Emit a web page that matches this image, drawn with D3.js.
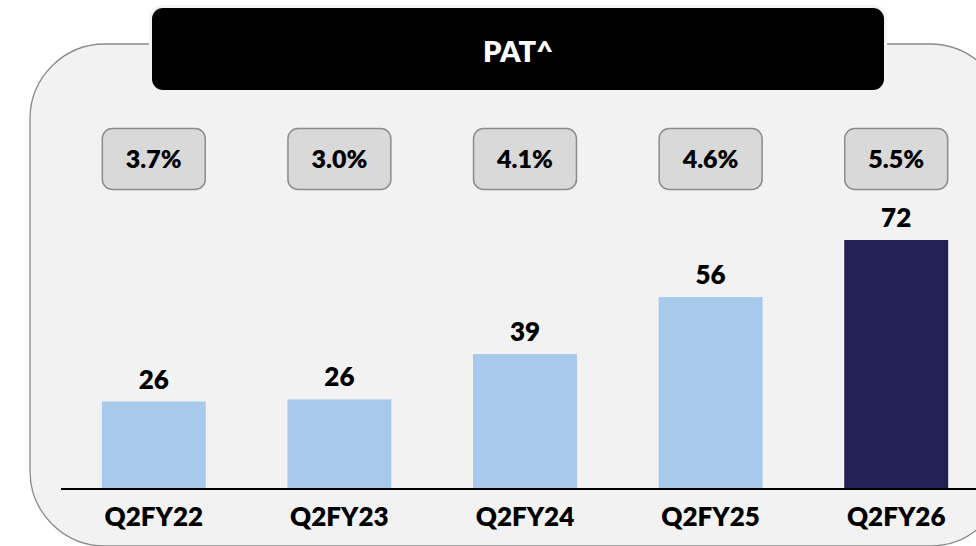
<!DOCTYPE html>
<html>
<head>
<meta charset="utf-8">
<script src="https://cdn.jsdelivr.net/npm/d3@7"></script>
<style>
  html, body { margin: 0; padding: 0; background: #ffffff; }
  svg { display: block; font-family: Lato, "Open Sans", sans-serif; }
</style>
</head>
<body>
<svg id="chart" width="976" height="546"></svg>
<script>
// ---- data ----
const title = "PAT^";
const categories = ["Q2FY22", "Q2FY23", "Q2FY24", "Q2FY25", "Q2FY26"];
const patValues = [25.3, 25.9, 39.0, 55.5, 72.0];
const valueLabels = ["26", "26", "39", "56", "72"];
const marginLabels = ["3.7%", "3.0%", "4.1%", "4.6%", "5.5%"];
const highlightIndex = 4;

// ---- layout ----
const W = 976, H = 546;
const svg = d3.select("#chart");
const FW = 800;

// background panel
svg.append("rect")
  .attr("x", 30).attr("y", 44)
  .attr("width", 975).attr("height", 502)
  .attr("rx", 75).attr("ry", 75)
  .attr("fill", "#f2f2f2")
  .attr("stroke", "#8a8a8a").attr("stroke-width", 1.3);

// header
svg.append("rect")
  .attr("x", 152).attr("y", 8)
  .attr("width", 732).attr("height", 82)
  .attr("rx", 11).attr("ry", 11)
  .attr("fill", "#000000")
  .attr("stroke", "#f3f3f3").attr("stroke-width", 6)
  .attr("paint-order", "stroke");
svg.append("text")
  .attr("x", 518).attr("y", 62)
  .attr("text-anchor", "middle")
  .attr("fill", "#ffffff")
  .attr("font-weight", FW)
  .attr("font-size", 29)
  .text(title);

// scales
const x = d3.scaleBand()
  .domain(categories)
  .range([61, 989])
  .paddingInner(0.44)
  .paddingOuter(0.22);
const y = d3.scaleLinear()
  .domain([0, 72])
  .range([489, 240]);

// bars
svg.append("g").selectAll("rect")
  .data(categories)
  .join("rect")
  .attr("x", d => x(d))
  .attr("y", (d, i) => y(patValues[i]))
  .attr("width", x.bandwidth())
  .attr("height", (d, i) => y(0) - y(patValues[i]))
  .attr("fill", (d, i) => i === highlightIndex ? "#232055" : "#a7c9eb");

// value labels
svg.append("g").selectAll("text")
  .data(categories)
  .join("text")
  .attr("x", d => x(d) + x.bandwidth() / 2)
  .attr("y", (d, i) => y(patValues[i]) - 13)
  .attr("text-anchor", "middle")
  .attr("font-weight", FW)
  .attr("font-size", 26)
  .attr("fill", "#000")
  .text((d, i) => valueLabels[i]);

// margin boxes
const boxes = svg.append("g").selectAll("g")
  .data(categories)
  .join("g")
  .attr("transform", d => `translate(${x(d)},128)`);
boxes.append("rect")
  .attr("x", 0.5).attr("y", 0.5)
  .attr("width", x.bandwidth() - 1).attr("height", 61)
  .attr("rx", 10).attr("ry", 10)
  .attr("fill", "#d9d9d9")
  .attr("stroke", "#8c8c8c").attr("stroke-width", 1.5);
boxes.append("text")
  .attr("x", x.bandwidth() / 2)
  .attr("y", 40)
  .attr("text-anchor", "middle")
  .attr("font-weight", FW)
  .attr("font-size", 25)
  .attr("fill", "#000")
  .text((d, i) => marginLabels[i]);

// x axis
const axis = svg.append("g")
  .attr("transform", "translate(0,489)")
  .call(d3.axisBottom(x).tickSize(0).tickPadding(0));
axis.select(".domain")
  .attr("stroke", "#000").attr("stroke-width", 2)
  .attr("d", "M61,0H976");
axis.selectAll(".tick text")
  .attr("y", 37)
  .attr("dy", 0)
  .attr("font-family", "Lato, 'Open Sans', sans-serif")
  .attr("font-weight", FW)
  .attr("font-size", 26)
  .attr("fill", "#000");
</script>
</body>
</html>
